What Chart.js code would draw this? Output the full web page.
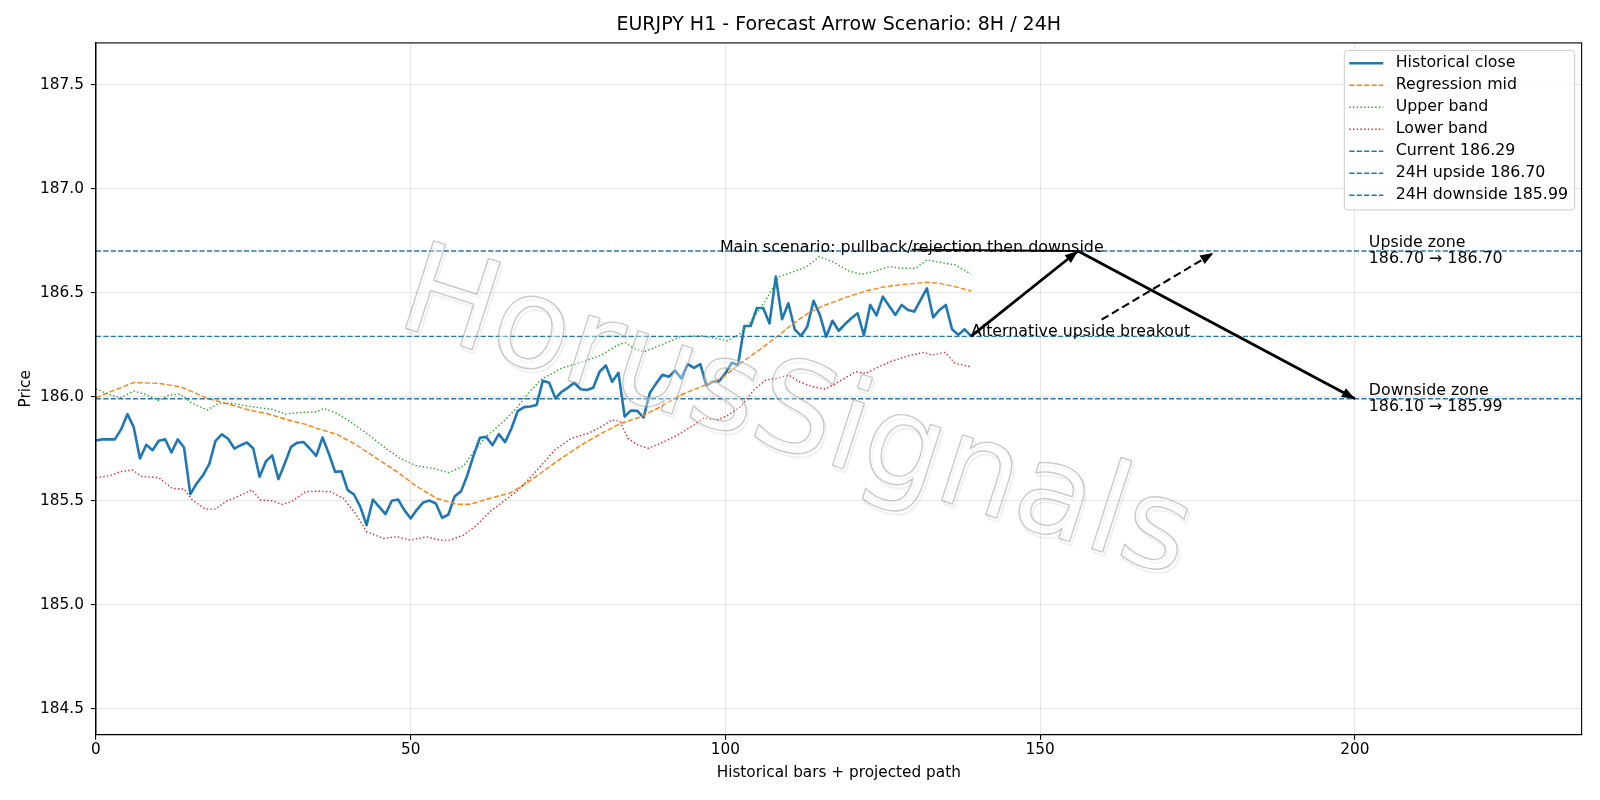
<!DOCTYPE html>
<html>
<head>
<meta charset="utf-8">
<script src="https://cdn.jsdelivr.net/npm/chart.js@4.4.1/dist/chart.umd.min.js"></script>
<style>
  html, body { margin: 0; padding: 0; background: #fff; }
  canvas { display: block; }
</style>
</head>
<body>
<canvas id="chart" width="1600" height="800"></canvas>
<script>
// axis ranges and ticks
const xMax = 236;
const yMin = 184.376, yMax = 187.70;
const xTicks = [0, 50, 100, 150, 200];
const yTicks = [184.5, 185.0, 185.5, 186.0, 186.5, 187.0, 187.5];

// historical close, one value per bar (0..139)
const closeValues = [
  185.790, 185.795, 185.795, 185.795, 185.843, 185.916, 185.855, 185.703, 185.769, 185.743,
  185.788, 185.795, 185.732, 185.795, 185.756, 185.532, 185.583, 185.622, 185.676, 185.788,
  185.819, 185.798, 185.751, 185.767, 185.780, 185.751, 185.615, 185.689, 185.718, 185.604,
  185.679, 185.759, 185.779, 185.782, 185.750, 185.716, 185.804, 185.727, 185.639, 185.642,
  185.551, 185.530, 185.471, 185.383, 185.506, 185.471, 185.436, 185.500, 185.506, 185.455,
  185.415, 185.458, 185.492, 185.501, 185.487, 185.418, 185.434, 185.522, 185.545, 185.623,
  185.719, 185.803, 185.807, 185.767, 185.820, 185.782, 185.847, 185.931, 185.950, 185.953,
  185.960, 186.077, 186.067, 185.992, 186.024, 186.044, 186.067, 186.036, 186.032, 186.043,
  186.120, 186.150, 186.072, 186.115, 185.904, 185.934, 185.932, 185.900, 186.019, 186.064,
  186.105, 186.096, 186.125, 186.088, 186.157, 186.139, 186.157, 186.055, 186.072, 186.075,
  186.112, 186.163, 186.152, 186.340, 186.340, 186.426, 186.426, 186.352, 186.577, 186.372,
  186.449, 186.324, 186.292, 186.336, 186.461, 186.393, 186.288, 186.365, 186.317, 186.349,
  186.377, 186.401, 186.295, 186.441, 186.391, 186.481, 186.436, 186.393, 186.441, 186.417,
  186.409, 186.465, 186.521, 186.381, 186.417, 186.441, 186.324, 186.297, 186.324, 186.292
];

// regression mid, read at these bar positions
const midX = [0, 3, 6, 10, 13.4, 15.3, 17.7, 21.6, 24.3, 27.4, 30.6, 33.3, 35.1, 38.3, 41.4, 44.6, 47.8,
  51, 54.1, 57.3, 59.4, 62.6, 65.7, 68.4, 70.8, 73.9, 77.1, 80.3, 83.4, 86.6, 89.7, 92.9, 96.1, 99.3,
  102.4, 104.6, 106.4, 108.5, 110.6, 113.3, 115.9, 119.1, 122.3, 125.4, 128.6, 131.8, 133.9, 136.5, 139];
const midY = [185.995, 186.032, 186.068, 186.064, 186.048, 186.024, 185.992, 185.960, 185.936, 185.917,
  185.888, 185.867, 185.848, 185.819, 185.768, 185.704, 185.640, 185.568, 185.512, 185.483, 185.483,
  185.512, 185.536, 185.584, 185.636, 185.704, 185.768, 185.824, 185.872, 185.904, 185.952, 186.008,
  186.048, 186.086, 186.160, 186.208, 186.248, 186.296, 186.348, 186.405, 186.441, 186.477, 186.508,
  186.529, 186.540, 186.550, 186.545, 186.529, 186.508];

const upperX = [0, 2.1, 3.9, 6, 7.9, 10, 11.6, 13.4, 15.3, 17.7, 19.5, 21.6, 23.7, 25.9, 28, 30.1, 32.2,
  35.1, 36.2, 38.3, 40.4, 43, 45.7, 48.3, 51, 53.6, 56, 58.4, 60, 62, 64.7, 66.8, 68.9, 70.8, 73.9, 77.1,
  80.3, 82.4, 84, 85.5, 87.1, 89.7, 92.9, 96.1, 98.7, 100.3, 102.4, 104, 106.1, 107.5, 108.5, 110.6,
  112.8, 114.9, 117, 119.6, 121.7, 123.9, 126, 128.1, 130.2, 132, 134.4, 136.5, 139];
const upperY = [186.037, 186.011, 185.995, 186.027, 186.011, 185.981, 186.008, 186.013, 185.968, 185.936,
  185.968, 185.968, 185.957, 185.947, 185.939, 185.917, 185.923, 185.928, 185.944, 185.920, 185.880,
  185.824, 185.760, 185.704, 185.667, 185.656, 185.635, 185.667, 185.736, 185.808, 185.880, 185.944,
  186.024, 186.084, 186.136, 186.165, 186.200, 186.240, 186.261, 186.232, 186.216, 186.248, 186.288,
  186.293, 186.280, 186.268, 186.304, 186.360, 186.449, 186.521, 186.577, 186.598, 186.622, 186.673,
  186.649, 186.604, 186.588, 186.604, 186.625, 186.617, 186.617, 186.657, 186.644, 186.633, 186.590];

const lowerX = [0, 2.1, 3.9, 5.8, 7.4, 10, 12.1, 14, 15.3, 17.4, 19, 20.6, 22.7, 24.8, 26.1, 28, 29.6,
  31.1, 33.3, 35.1, 37.2, 39.3, 41.4, 43, 45.7, 47.8, 49.9, 52.5, 54.7, 56.2, 58.4, 60.5, 62.6, 64.7,
  66.8, 68.9, 70.8, 72.9, 75.5, 78.2, 80.3, 81.9, 83.2, 84.5, 86.1, 87.7, 89.7, 92.4, 95, 96.6, 98.6,
  100.3, 102.4, 104.5, 106.4, 108, 110.1, 111.7, 113.8, 115.9, 118, 120.7, 122.3, 124.4, 126.5, 129.1,
  131.5, 132.8, 134.9, 136.5, 139];
const lowerY = [185.611, 185.620, 185.640, 185.648, 185.616, 185.611, 185.560, 185.556, 185.504, 185.460,
  185.460, 185.496, 185.523, 185.552, 185.504, 185.500, 185.483, 185.496, 185.544, 185.546, 185.544,
  185.512, 185.432, 185.351, 185.319, 185.327, 185.311, 185.327, 185.311, 185.311, 185.335, 185.383,
  185.448, 185.496, 185.544, 185.608, 185.672, 185.744, 185.800, 185.824, 185.856, 185.888, 185.883,
  185.800, 185.768, 185.752, 185.776, 185.816, 185.864, 185.899, 185.888, 185.909, 185.952, 186.032,
  186.080, 186.088, 186.104, 186.072, 186.048, 186.037, 186.072, 186.120, 186.112, 186.144, 186.172,
  186.197, 186.213, 186.200, 186.213, 186.160, 186.144];

// horizontal levels
const levelNames = ["Current", "24H upside", "24H downside"];
const levelValues = [186.29, 186.70, 185.99];

// projected path (main scenario) and alternative breakout
const pathX = [139, 156, 200];
const pathY = [186.29, 186.70, 185.99];
const altX = [159.75, 177.5];
const altY = [186.37, 186.69];
const mainLinkX = [129.6, 156];
const mainLinkY = [186.707, 186.70];

const mainNote = "Main scenario: pullback/rejection then downside";
const altNote = "Alternative upside breakout";
const zoneNotes = [
  ["Upside zone", "186.70 \u2192 186.70"],
  ["Downside zone", "186.10 \u2192 185.99"]
];
const watermarkText = "HorusSignals";

const blue = "#1f77b4", orange = "#ff7f0e", green = "#2ca02c", red = "#d62728";
const FONT = '"DejaVu Sans", sans-serif';

Chart.defaults.font.family = FONT;
Chart.defaults.font.size = 15.3;
Chart.defaults.color = "#000";

const toPoints = (xs, ys) => xs.map((x, i) => ({ x: x, y: ys[i] }));

const datasets = [
  { label: "Historical close", data: closeValues.map((v, i) => ({ x: i, y: v })),
    borderColor: blue, borderWidth: 2.6, inLegend: true },
  { label: "Regression mid", data: toPoints(midX, midY),
    borderColor: orange, borderWidth: 1.4, borderDash: [5.2, 2.2], inLegend: true },
  { label: "Upper band", data: toPoints(upperX, upperY),
    borderColor: green, borderWidth: 1.4, borderDash: [1.4, 2.3], inLegend: true },
  { label: "Lower band", data: toPoints(lowerX, lowerY),
    borderColor: red, borderWidth: 1.4, borderDash: [1.4, 2.3], inLegend: true }
];

levelValues.forEach((v, i) => {
  datasets.push({
    label: levelNames[i] + " " + v.toFixed(2),
    data: [{ x: 0, y: v }, { x: xMax, y: v }],
    borderColor: blue, borderWidth: 1.4, borderDash: [5.2, 2.2], inLegend: true
  });
});

datasets.push(
  { label: "up", data: toPoints(pathX.slice(0, 2), pathY.slice(0, 2)), borderColor: "#000", borderWidth: 2.8, arrowHead: true },
  { label: "down", data: toPoints(pathX.slice(1), pathY.slice(1)), borderColor: "#000", borderWidth: 2.8, arrowHead: true },
  { label: "alt", data: toPoints(altX, altY), borderColor: "#000", borderWidth: 2.1, borderDash: [8, 4], arrowHead: true },
  { label: "link", data: toPoints(mainLinkX, mainLinkY), borderColor: "#000", borderWidth: 1.8 }
);

datasets.forEach((d, i) => {
  d.pointRadius = 0;
  d.fill = false;
  d.tension = 0;
  d.borderJoinStyle = "round";
  d.order = datasets.length - i; // later datasets on top, like matplotlib
});

const watermark = {
  id: "watermark",
  afterDatasetsDraw(chart) {
    const ctx = chart.ctx;
    ctx.save();
    ctx.translate(795, 419);
    ctx.rotate(17.8 * Math.PI / 180);
    ctx.font = "126px " + FONT;
    ctx.textAlign = "center";
    ctx.textBaseline = "middle";
    ctx.lineJoin = "round";
    ctx.lineWidth = 2;
    ctx.strokeStyle = "rgba(0,0,0,0.06)";
    ctx.strokeText(watermarkText, 3, 3);
    ctx.fillStyle = "rgba(255,255,255,0.35)";
    ctx.fillText(watermarkText, 0, 0);
    ctx.lineWidth = 1.4;
    ctx.strokeStyle = "rgba(150,150,150,0.5)";
    ctx.strokeText(watermarkText, 0, 0);
    ctx.restore();
  }
};

const arrowHeads = {
  id: "arrowHeads",
  afterDatasetsDraw(chart) {
    const ctx = chart.ctx;
    chart.data.datasets.forEach((ds, i) => {
      if (!ds.arrowHead) return;
      const pts = chart.getDatasetMeta(i).data;
      const a = pts[pts.length - 2], b = pts[pts.length - 1];
      const ang = Math.atan2(b.y - a.y, b.x - a.x);
      ctx.save();
      ctx.fillStyle = ds.borderColor;
      ctx.translate(b.x, b.y);
      ctx.rotate(ang);
      ctx.beginPath();
      ctx.moveTo(0, 0);
      ctx.lineTo(-13, -5);
      ctx.lineTo(-13, 5);
      ctx.closePath();
      ctx.fill();
      ctx.restore();
    });
  }
};

const notes = {
  id: "notes",
  afterDatasetsDraw(chart) {
    const { ctx, scales: { x, y } } = chart;
    ctx.save();
    ctx.fillStyle = "#000";
    ctx.textBaseline = "alphabetic";

    ctx.font = "15.9px " + FONT;
    ctx.textAlign = "center";
    ctx.fillText(mainNote, x.getPixelForValue(129.6), y.getPixelForValue(levelValues[1]) + 1);

    ctx.font = "15.8px " + FONT;
    ctx.textAlign = "left";
    ctx.fillText(altNote, x.getPixelForValue(pathX[0]), y.getPixelForValue(pathY[0]));

    [levelValues[1], levelValues[2]].forEach((lv, k) => {
      const px = x.getPixelForValue(202.2), py = y.getPixelForValue(lv);
      ctx.fillText(zoneNotes[k][0], px, py - 4);
      ctx.fillText(zoneNotes[k][1], px, py + 12);
    });
    ctx.restore();
  }
};

const boxLegend = {
  id: "boxLegend",
  afterDraw(chart) {
    const { ctx, chartArea } = chart;
    const items = chart.data.datasets.filter(d => d.inLegend);
    const w = 230.3, h = 159.5;
    const left = chartArea.right - 7 - w, top = chartArea.top + 7.6;
    ctx.save();
    ctx.beginPath();
    ctx.roundRect(left, top, w, h, 3);
    ctx.fillStyle = "rgba(255,255,255,0.8)";
    ctx.fill();
    ctx.strokeStyle = "#cccccc";
    ctx.lineWidth = 1;
    ctx.stroke();
    ctx.font = "15.8px " + FONT;
    ctx.textBaseline = "middle";
    ctx.textAlign = "left";
    items.forEach((d, k) => {
      const yy = top + 12.8 + 22 * k;
      ctx.beginPath();
      ctx.setLineDash(d.borderDash || []);
      ctx.strokeStyle = d.borderColor;
      ctx.lineWidth = d.borderWidth;
      ctx.moveTo(left + 5, yy);
      ctx.lineTo(left + 39, yy);
      ctx.stroke();
      ctx.setLineDash([]);
      ctx.fillStyle = "#000";
      ctx.fillText(d.label, left + 51.4, yy);
    });
    ctx.restore();
  }
};

const frame = {
  id: "frame",
  afterDraw(chart) {
    const { ctx, chartArea: a } = chart;
    ctx.save();
    ctx.strokeStyle = "#000";
    ctx.lineWidth = 1.1;
    ctx.strokeRect(a.left, a.top, a.right - a.left, a.bottom - a.top);
    ctx.restore();
  }
};

const gridColor = "rgba(176,176,176,0.3)";

new Chart(document.getElementById("chart"), {
  type: "line",
  data: { datasets: datasets },
  options: {
    responsive: false,
    devicePixelRatio: 1,
    animation: false,
    events: [],
    layout: { padding: { left: 0, right: 18.4, top: 0, bottom: 0 } },
    plugins: {
      legend: { display: false },
      tooltip: { enabled: false },
      title: {
        display: true,
        fullSize: false,
        text: "EURJPY H1 - Forecast Arrow Scenario: 8H / 24H",
        color: "#000",
        font: { size: 19, weight: "normal" },
        padding: { top: 14.1, bottom: 6.0 }
      }
    },
    scales: {
      x: {
        type: "linear",
        min: 0,
        max: xMax,
        afterBuildTicks: axis => { axis.ticks = xTicks.map(v => ({ value: v })); },
        afterFit: axis => { axis.height = 65.3; },
        ticks: { padding: 1, maxRotation: 0, color: "#000", callback: v => String(v) },
        grid: { color: gridColor, lineWidth: 1.1, tickColor: "#000", tickLength: 5, tickWidth: 1.1 },
        border: { display: true, color: "#000", width: 1.1 },
        title: { display: true, text: "Historical bars + projected path", color: "#000",
                 font: { size: 15.3 }, padding: { top: 0, bottom: 17.5 } }
      },
      y: {
        type: "linear",
        min: yMin,
        max: yMax,
        afterBuildTicks: axis => { axis.ticks = yTicks.map(v => ({ value: v })); },
        afterFit: axis => { axis.width = 95.9; },
        ticks: { padding: 7, color: "#000", callback: v => v.toFixed(1) },
        grid: { color: gridColor, lineWidth: 1.1, tickColor: "#000", tickLength: 5, tickWidth: 1.1 },
        border: { display: true, color: "#000", width: 1.1 },
        title: { display: true, text: "Price", color: "#000",
                 font: { size: 15.3 }, padding: { top: 17, bottom: 0 } }
      }
    }
  },
  plugins: [watermark, arrowHeads, notes, boxLegend, frame]
});
</script>
</body>
</html>
